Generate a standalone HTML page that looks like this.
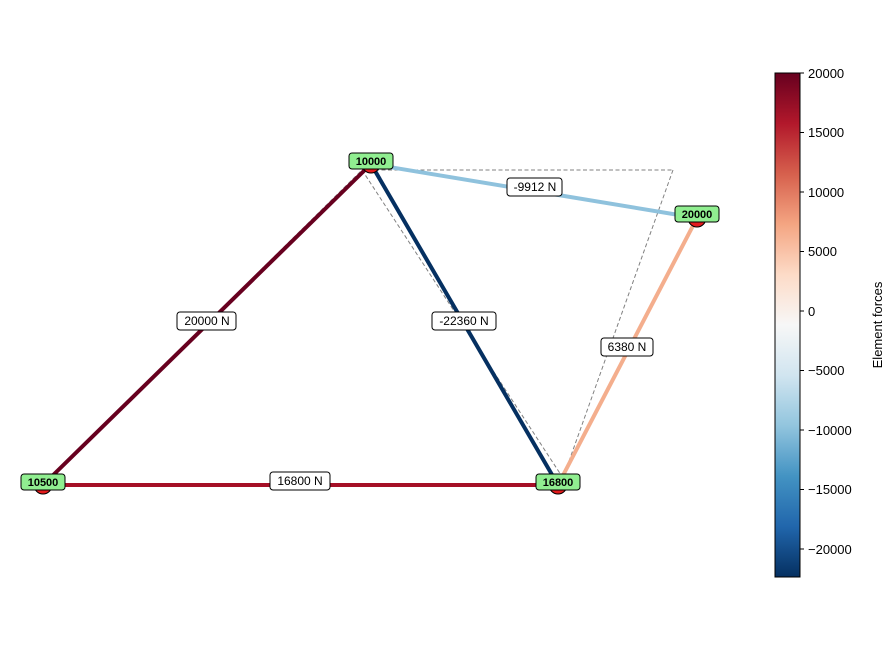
<!DOCTYPE html>
<html><head><style>body{margin:0;background:#fff}svg{display:block}</style></head><body>
<svg width="894" height="650" xmlns="http://www.w3.org/2000/svg" font-family="Liberation Sans, DejaVu Sans, sans-serif">
<defs>
<linearGradient id="g" x1="0" y1="1" x2="0" y2="0">
<stop offset="0" stop-color="#053061"/>
<stop offset="0.1" stop-color="#2166ac"/>
<stop offset="0.2" stop-color="#4393c3"/>
<stop offset="0.3" stop-color="#92c5de"/>
<stop offset="0.4" stop-color="#d1e5f0"/>
<stop offset="0.5" stop-color="#f7f7f7"/>
<stop offset="0.6" stop-color="#fddbc7"/>
<stop offset="0.7" stop-color="#f4a582"/>
<stop offset="0.8" stop-color="#d6604d"/>
<stop offset="0.9" stop-color="#b2182b"/>
<stop offset="1" stop-color="#67001f"/>
</linearGradient>
</defs>
<g stroke="#808080" stroke-width="1" stroke-dasharray="4,2.5" fill="none">
<line x1="43" y1="485" x2="362" y2="170"/>
<line x1="362" y1="170" x2="673" y2="170"/>
<line x1="362" y1="170" x2="563" y2="478"/>
<line x1="673" y1="170" x2="563" y2="478"/>
</g>
<g stroke-width="4" fill="none">
<line x1="43" y1="485" x2="371" y2="164" stroke="#67001f"/>
<line x1="43" y1="485" x2="558" y2="485" stroke="#a50f26"/>
<line x1="371" y1="164" x2="558" y2="485" stroke="#053061"/>
<line x1="371" y1="164" x2="697" y2="218" stroke="#8fc2dd"/>
<line x1="558" y1="485" x2="697" y2="218" stroke="#f4ae8d"/>
</g>
<g fill="#e31a1c" stroke="#000" stroke-width="1">
<circle cx="43" cy="485" r="9"/><circle cx="371" cy="164" r="9"/><circle cx="558" cy="485" r="9"/><circle cx="697" cy="218" r="9"/>
</g>
<g font-size="12" text-anchor="middle">
<rect x="177" y="312" width="59" height="18" rx="3" fill="#fff" stroke="#000"/><text x="207" y="325">20000 N</text>
<rect x="270" y="472" width="60" height="18" rx="3" fill="#fff" stroke="#000"/><text x="300" y="485">16800 N</text>
<rect x="432" y="312" width="64" height="18" rx="3" fill="#fff" stroke="#000"/><text x="464" y="325">-22360 N</text>
<rect x="507" y="178" width="55" height="18" rx="3" fill="#fff" stroke="#000"/><text x="535" y="191">-9912 N</text>
<rect x="601" y="338" width="52" height="18" rx="3" fill="#fff" stroke="#000"/><text x="627" y="351">6380 N</text>
</g>
<g font-size="11" font-weight="bold" text-anchor="middle">
<rect x="349" y="153" width="44" height="16" rx="3" fill="#90ee90" stroke="#000"/><text x="371" y="165">10000</text>
<rect x="21" y="474" width="44" height="16" rx="3" fill="#90ee90" stroke="#000"/><text x="43" y="486">10500</text>
<rect x="536" y="474" width="44" height="16" rx="3" fill="#90ee90" stroke="#000"/><text x="558" y="486">16800</text>
<rect x="675" y="206" width="44" height="16" rx="3" fill="#90ee90" stroke="#000"/><text x="697" y="218">20000</text>
</g>
<rect x="775" y="73" width="25" height="504" fill="url(#g)" stroke="#000" stroke-width="1"/>
<g stroke="#000">
<line x1="800" y1="73" x2="804" y2="73"/><line x1="800" y1="132.5" x2="804" y2="132.5"/><line x1="800" y1="192" x2="804" y2="192"/><line x1="800" y1="251.5" x2="804" y2="251.5"/><line x1="800" y1="311" x2="804" y2="311"/><line x1="800" y1="370.5" x2="804" y2="370.5"/><line x1="800" y1="430" x2="804" y2="430"/><line x1="800" y1="489.5" x2="804" y2="489.5"/><line x1="800" y1="549" x2="804" y2="549"/>
</g>
<g font-size="13" fill="#000">
<text x="808" y="78">20000</text><text x="808" y="137">15000</text><text x="808" y="197">10000</text><text x="808" y="256">5000</text><text x="808" y="316">0</text><text x="808" y="375">−5000</text><text x="808" y="435">−10000</text><text x="808" y="494">−15000</text><text x="808" y="554">−20000</text>
<text x="882" y="325" text-anchor="middle" transform="rotate(-90 882 325)">Element forces</text>
</g>
</svg>
</body></html>
